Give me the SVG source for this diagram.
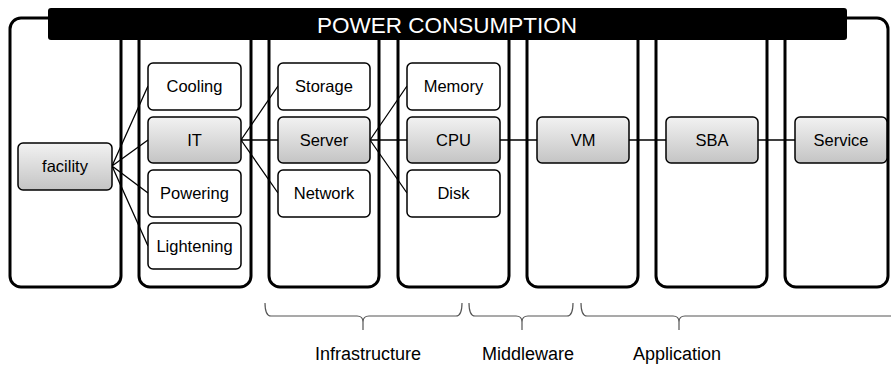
<svg xmlns="http://www.w3.org/2000/svg" width="891" height="367" viewBox="0 0 891 367">
<defs>
<linearGradient id="g" x1="0" y1="0" x2="0" y2="1">
<stop offset="0" stop-color="#f2f2f2"/>
<stop offset="1" stop-color="#c4c4c4"/>
</linearGradient>
<style>
.col{fill:#fff;stroke:#000;stroke-width:3}
.n{fill:#fff;stroke:#000;stroke-width:1.5}
.ng{fill:url(#g);stroke:#000;stroke-width:1.5}
.t{font-family:"Liberation Sans",Arial,sans-serif;font-size:16.5px;text-anchor:middle;fill:#000}
.lab{font-family:"Liberation Sans",Arial,sans-serif;font-size:18px;text-anchor:middle;fill:#000}
.c{stroke:#000;stroke-width:1.3;fill:none}
.br{stroke:#555;stroke-width:1.2;fill:none}
</style>
</defs>
<g id="columns">
<rect class="col" x="10" y="18" width="111" height="269" rx="11"/>
<rect class="col" x="139" y="18" width="112" height="269" rx="11"/>
<rect class="col" x="269" y="18" width="110" height="269" rx="11"/>
<rect class="col" x="398" y="18" width="111" height="269" rx="11"/>
<rect class="col" x="527" y="18" width="111" height="269" rx="11"/>
<rect class="col" x="656" y="18" width="111" height="269" rx="11"/>
<rect class="col" x="785" y="18" width="103" height="269" rx="11"/>
</g>
<g id="header">
<rect x="48" y="8" width="799" height="32" rx="3" fill="#000"/>
<text x="447" y="33" font-family="'Liberation Sans',Arial,sans-serif" font-size="22.5" fill="#fff" text-anchor="middle">POWER CONSUMPTION</text>
</g>
<g id="connectors">
<path class="c" d="M112,166 L148,86 M112,166 L148,140 M112,166 L148,193 M112,166 L148,246"/>
<path class="c" d="M241,140 L278,86 M241,140 L278,140 M241,140 L278,193"/>
<path class="c" d="M370,140 L407,86 M370,140 L407,140 M370,140 L407,193"/>
<path class="c" d="M500,140 L537,140 M629,140 L666,140 M758,140 L795,140"/>
</g>
<g id="facility"><rect class="ng" x="18" y="143" width="94" height="47" rx="5"/><text class="t" x="65" y="172">facility</text></g>
<g id="cooling"><rect class="n" x="148" y="63" width="93" height="47" rx="5"/><text class="t" x="194.5" y="92">Cooling</text></g>
<g id="it"><rect class="ng" x="148" y="117" width="93" height="46" rx="5"/><text class="t" x="194.5" y="146">IT</text></g>
<g id="powering"><rect class="n" x="148" y="170" width="93" height="47" rx="5"/><text class="t" x="194.5" y="199">Powering</text></g>
<g id="lightening"><rect class="n" x="148" y="223" width="93" height="46" rx="5"/><text class="t" x="194.5" y="252">Lightening</text></g>
<g id="storage"><rect class="n" x="278" y="63" width="92" height="47" rx="5"/><text class="t" x="324" y="92">Storage</text></g>
<g id="server"><rect class="ng" x="278" y="117" width="92" height="46" rx="5"/><text class="t" x="324" y="146">Server</text></g>
<g id="network"><rect class="n" x="278" y="170" width="92" height="47" rx="5"/><text class="t" x="324" y="199">Network</text></g>
<g id="memory"><rect class="n" x="407" y="63" width="93" height="47" rx="5"/><text class="t" x="453.5" y="92">Memory</text></g>
<g id="cpu"><rect class="ng" x="407" y="117" width="93" height="46" rx="5"/><text class="t" x="453.5" y="146">CPU</text></g>
<g id="disk"><rect class="n" x="407" y="170" width="93" height="47" rx="5"/><text class="t" x="453.5" y="199">Disk</text></g>
<g id="vm"><rect class="ng" x="537" y="117" width="92" height="46" rx="5"/><text class="t" x="583" y="146">VM</text></g>
<g id="sba"><rect class="ng" x="666" y="117" width="92" height="46" rx="5"/><text class="t" x="712" y="146">SBA</text></g>
<g id="service"><rect class="ng" x="795" y="117" width="92" height="46" rx="5"/><text class="t" x="841" y="146">Service</text></g>
<g id="braces">
<path class="br" d="M265,303 Q265,316 271,316 L357,316 Q363,316 363,322 L363,330 M363,322 Q363,316 369,316 L456,316 Q462,316 462,303"/>
<path class="br" d="M469,303 Q469,316 475,316 L516,316 Q522,316 522,322 L522,330 M522,322 Q522,316 528,316 L567,316 Q573,316 573,303"/>
<path class="br" d="M581,303 Q581,316 587,316 L673,316 Q679,316 679,322 L679,330 M679,322 Q679,316 685,316 L895,316"/>
</g>
<g id="labels">
<text class="lab" x="368" y="360">Infrastructure</text>
<text class="lab" x="528" y="360">Middleware</text>
<text class="lab" x="677" y="360">Application</text>
</g>
</svg>
